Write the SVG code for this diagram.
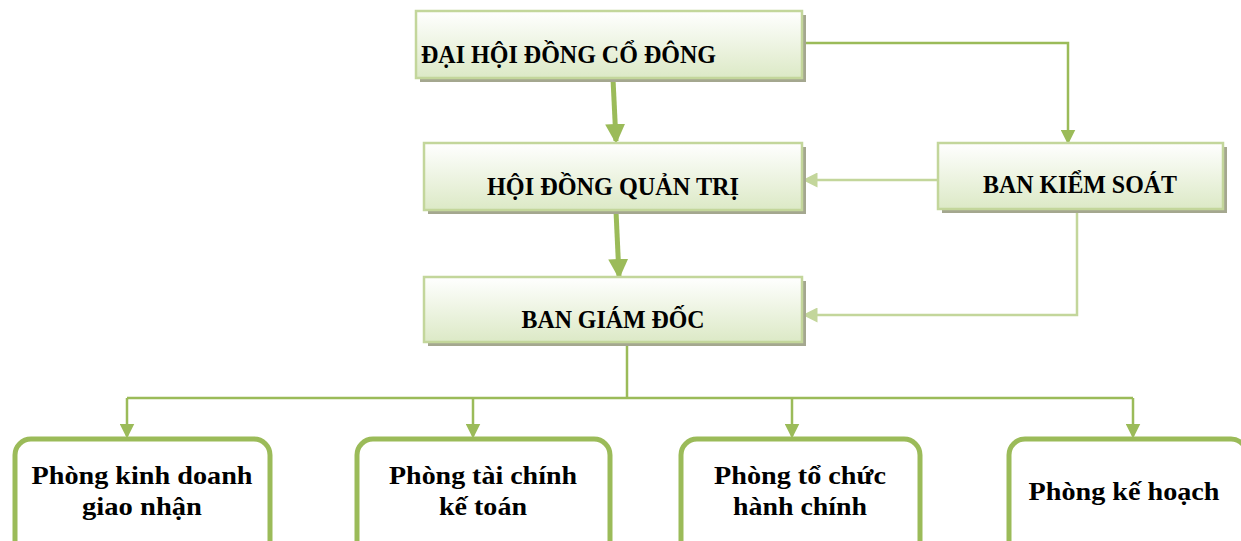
<svg xmlns="http://www.w3.org/2000/svg" width="1241" height="541" viewBox="0 0 1241 541">
<style>
.t{font-family:"Liberation Serif","DejaVu Serif",serif;font-weight:bold;font-size:25px;fill:#000}
.box{fill:url(#g);stroke:#c3d69b;stroke-width:2.5}
.sh{fill:#a4a78f}
.dept{fill:#fff;stroke:#9bbb59;stroke-width:5}
.ln{fill:none;stroke:#9bbb59;stroke-width:2.5}
.lnl{fill:none;stroke:#c3d69b;stroke-width:2.5}
.thick{fill:none;stroke:#9bbb59;stroke-width:5}
</style>
<defs>
<linearGradient id="g" x1="0" y1="0" x2="0" y2="1">
<stop offset="0" stop-color="#ffffff"/>
<stop offset="1" stop-color="#dce9c6"/>
</linearGradient>
<marker id="a" markerWidth="6" markerHeight="6" refX="5" refY="3" orient="auto" markerUnits="strokeWidth">
<path d="M0,0 L6,3 L0,6 z" fill="#9bbb59"/>
</marker>
<marker id="al" markerWidth="6" markerHeight="6" refX="5" refY="3" orient="auto" markerUnits="strokeWidth">
<path d="M0,0 L6,3 L0,6 z" fill="#c3d69b"/>
</marker>
<marker id="at" markerWidth="4" markerHeight="4" refX="3.4" refY="2" orient="auto" markerUnits="strokeWidth">
<path d="M0,0 L4,2 L0,4 z" fill="#9bbb59"/>
</marker>
</defs>
<g id="connectors">
<path class="thick" d="M613,79 L616,141" marker-end="url(#at)"/>
<path class="thick" d="M616,211 L619,276" marker-end="url(#at)"/>
<path class="ln" d="M803,43 H1068 V142" marker-end="url(#a)"/>
<path class="lnl" d="M938,180 H805" marker-end="url(#al)"/>
<path class="lnl" d="M1077,210 V315 H805" marker-end="url(#al)"/>
<path class="ln" d="M627,343 V398"/>
<path class="ln" d="M127,398 H1133"/>
<path class="ln" d="M127,398 V436" marker-end="url(#a)"/>
<path class="ln" d="M473,398 V436" marker-end="url(#a)"/>
<path class="ln" d="M792,398 V436" marker-end="url(#a)"/>
<path class="ln" d="M1133,398 V436" marker-end="url(#a)"/>
</g>
<g id="dhdcd">
<rect class="sh" x="420" y="15" width="386" height="67"/>
<rect class="box" x="416" y="11" width="386" height="67"/>
<text class="t" x="421" y="63" textLength="295" lengthAdjust="spacingAndGlyphs">ĐẠI HỘI ĐỒNG CỔ ĐÔNG</text>
</g>
<g id="hdqt">
<rect class="sh" x="428" y="147" width="378" height="67"/>
<rect class="box" x="424" y="143" width="378" height="67"/>
<text class="t" x="613" y="195" text-anchor="middle" textLength="252" lengthAdjust="spacingAndGlyphs">HỘI ĐỒNG QUẢN TRỊ</text>
</g>
<g id="bgd">
<rect class="sh" x="428" y="281" width="378" height="65"/>
<rect class="box" x="424" y="277" width="378" height="65"/>
<text class="t" x="613" y="328" text-anchor="middle" textLength="183" lengthAdjust="spacingAndGlyphs">BAN GIÁM ĐỐC</text>
</g>
<g id="bks">
<rect class="sh" x="942" y="147" width="285" height="66"/>
<rect class="box" x="938" y="143" width="285" height="66"/>
<text class="t" x="1080" y="193" text-anchor="middle" textLength="194" lengthAdjust="spacingAndGlyphs">BAN KIỂM SOÁT</text>
</g>
<g id="p1">
<rect class="dept" x="15" y="439" width="255" height="120" rx="16"/>
<text class="t" x="142" y="484" text-anchor="middle" textLength="221" lengthAdjust="spacingAndGlyphs">Phòng kinh doanh</text>
<text class="t" x="142" y="515" text-anchor="middle" textLength="120" lengthAdjust="spacingAndGlyphs">giao nhận</text>
</g>
<g id="p2">
<rect class="dept" x="357" y="439" width="253" height="120" rx="16"/>
<text class="t" x="483" y="484" text-anchor="middle" textLength="188" lengthAdjust="spacingAndGlyphs">Phòng tài chính</text>
<text class="t" x="483" y="515" text-anchor="middle" textLength="88" lengthAdjust="spacingAndGlyphs">kế toán</text>
</g>
<g id="p3">
<rect class="dept" x="681" y="439" width="239" height="120" rx="16"/>
<text class="t" x="800" y="484" text-anchor="middle" textLength="172" lengthAdjust="spacingAndGlyphs">Phòng tổ chức</text>
<text class="t" x="800" y="515" text-anchor="middle" textLength="134" lengthAdjust="spacingAndGlyphs">hành chính</text>
</g>
<g id="p4">
<rect class="dept" x="1009" y="439" width="238" height="120" rx="16"/>
<text class="t" x="1124" y="500" text-anchor="middle" textLength="191" lengthAdjust="spacingAndGlyphs">Phòng kế hoạch</text>
</g>
</svg>
